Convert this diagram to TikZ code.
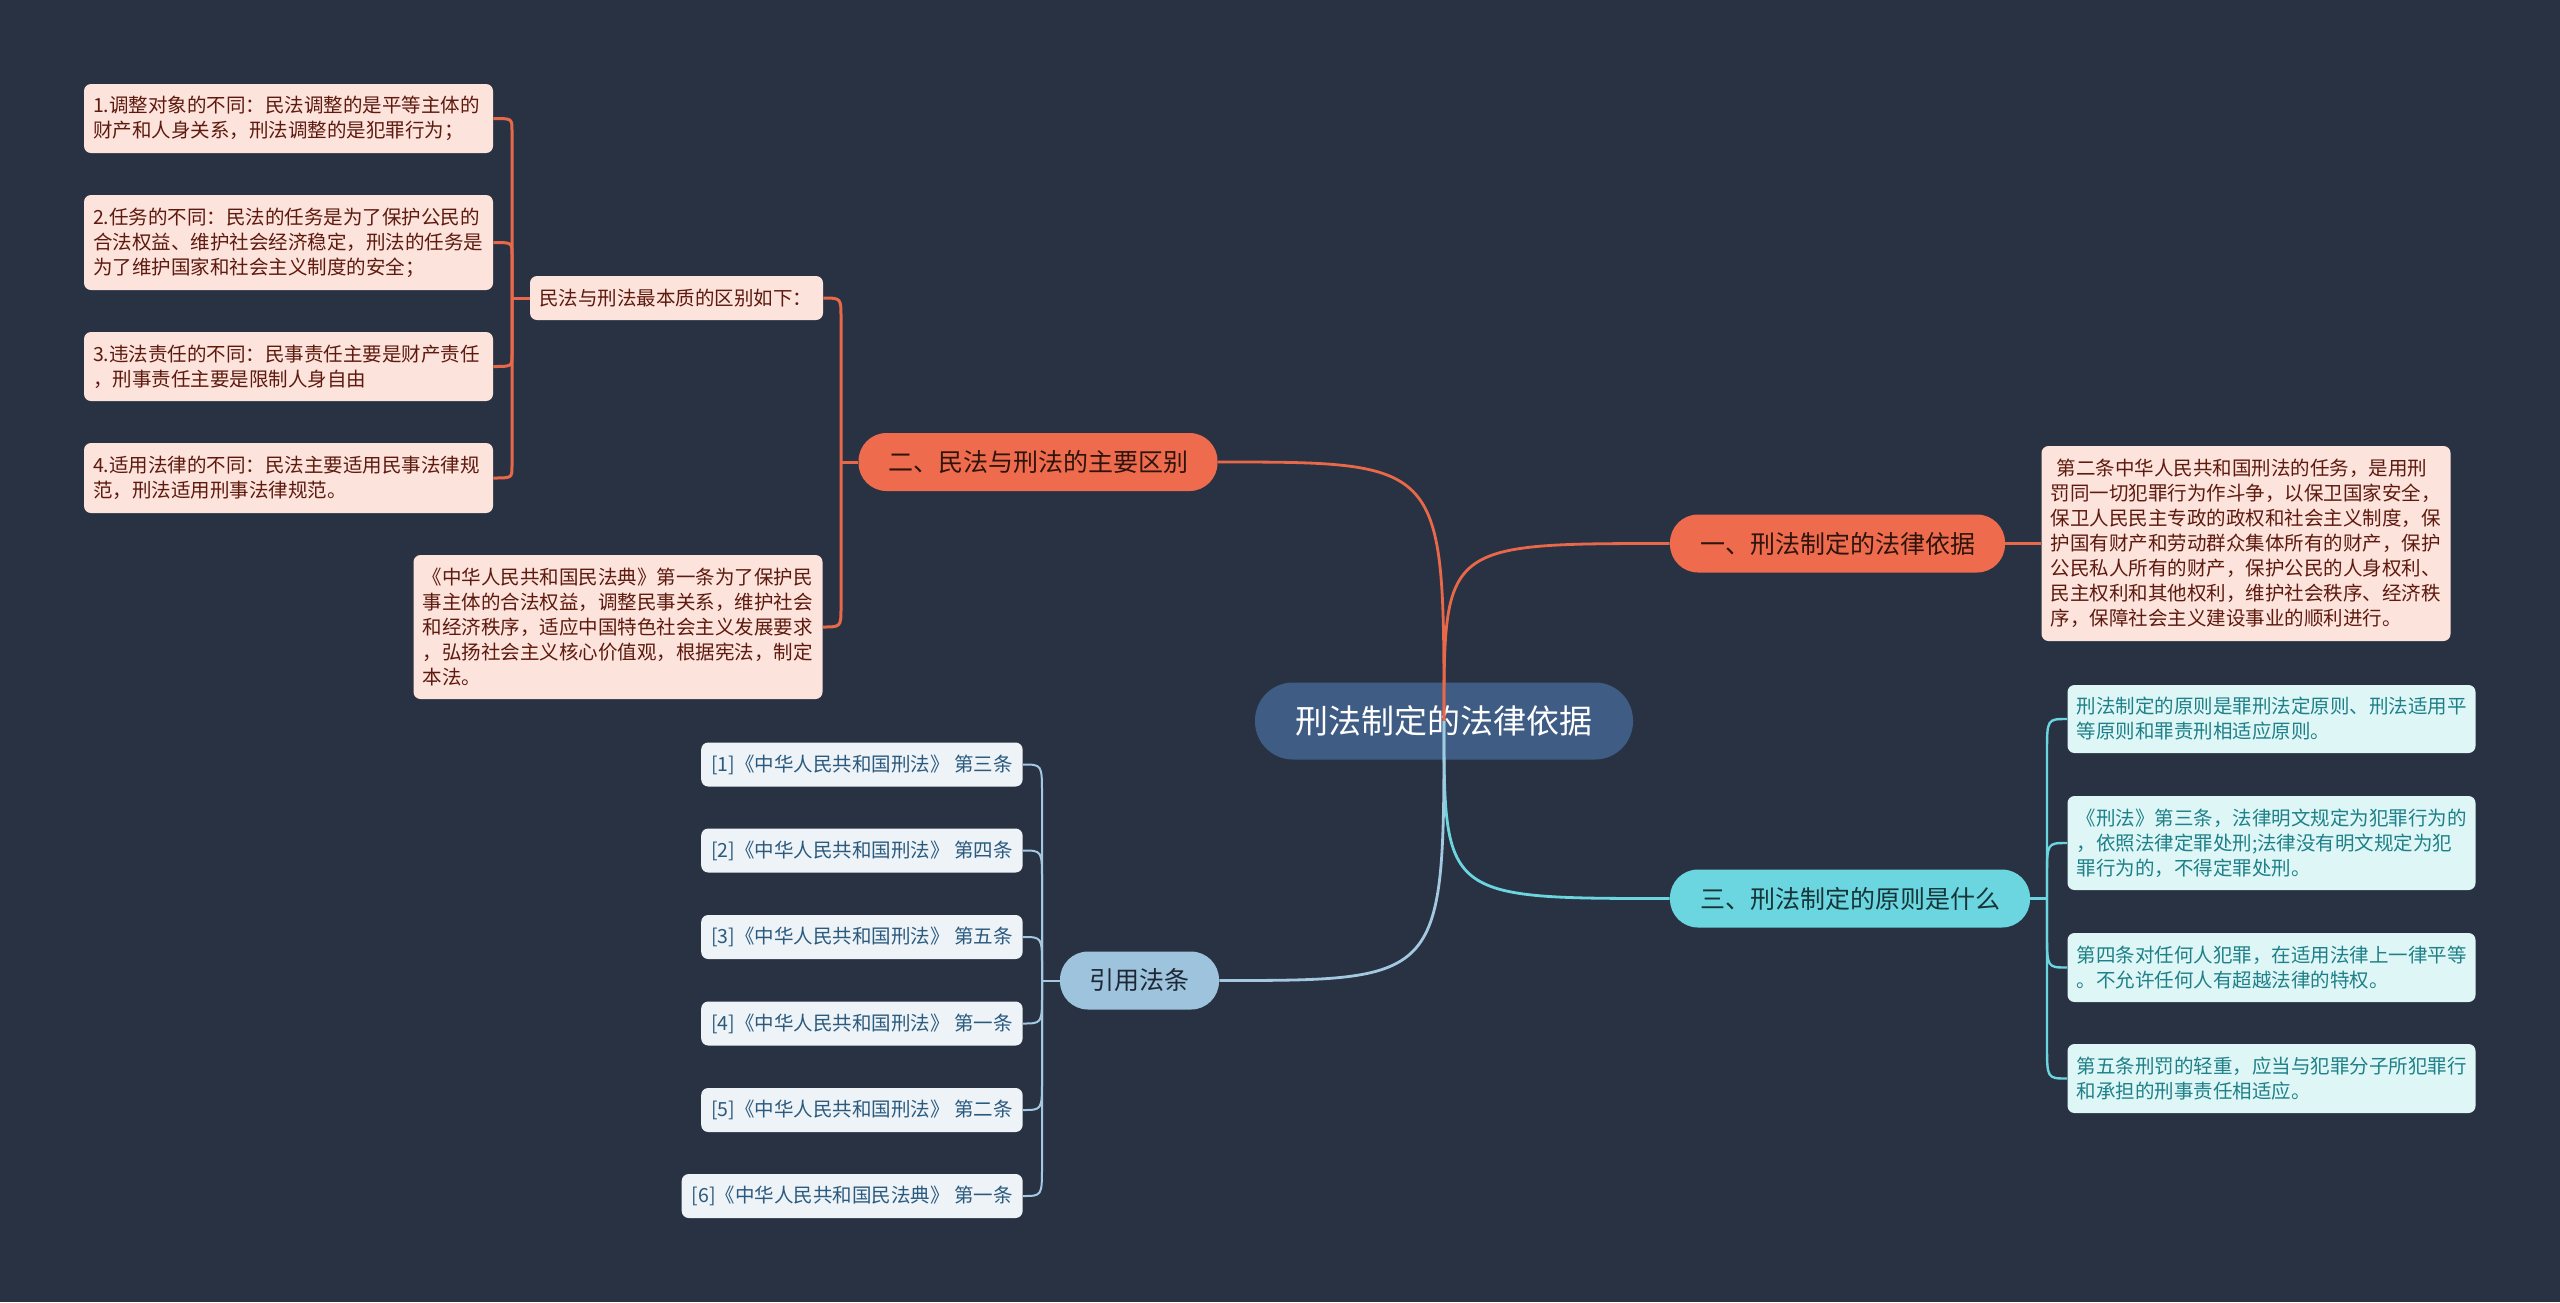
\documentclass[tikz,border=0pt]{standalone}
\usepackage{fontspec}
\setmainfont{Noto Sans CJK SC}
\usetikzlibrary{calc}
\definecolor{bg}{HTML}{293242}
\definecolor{ctrfill}{HTML}{3F5C84}
\definecolor{redfill}{HTML}{EE6C4D}
\definecolor{redln}{HTML}{E8684A}
\definecolor{redtxt}{HTML}{2E140C}
\definecolor{pinkfill}{HTML}{FCE3DC}
\definecolor{pinktxt}{HTML}{5E1A0E}
\definecolor{cyanfill}{HTML}{6BD6DF}
\definecolor{cyantxt}{HTML}{153538}
\definecolor{cyanleaf}{HTML}{DFF6F7}
\definecolor{cyanleaftxt}{HTML}{1E8088}
\definecolor{bluefill}{HTML}{9DC3DD}
\definecolor{blueln}{HTML}{A3C8E0}
\definecolor{bluetxt}{HTML}{1E2835}
\definecolor{blueleaf}{HTML}{EDF3F7}
\definecolor{blueleaftxt}{HTML}{2B5A7E}
\begin{document}
\begin{tikzpicture}[x=0.5pt,y=-0.5pt,
  ctrbox/.style={fill=ctrfill, rounded corners=19pt, minimum width=189pt, minimum height=38.5pt, inner sep=0pt, text=white, font=\fontsize{16.5}{20}\selectfont},
  branch/.style={rounded corners=14pt, minimum height=29pt, inner sep=0pt, font=\fontsize{12.5}{15}\selectfont},
  redbr/.style={branch, fill=redfill, text=redtxt},
  cyanbr/.style={branch, fill=cyanfill, text=cyantxt},
  bluebr/.style={branch, fill=bluefill, text=bluetxt},
  leaf/.style={rounded corners=3.5pt, inner xsep=4.5pt, inner ysep=0pt, align=left, font=\fontsize{9.75}{12.5}\selectfont},
  pinkleaf/.style={leaf, fill=pinkfill, text=pinktxt, text width=195.5pt},
  cyanleafbox/.style={leaf, fill=cyanleaf, text=cyanleaftxt, text width=195pt},
  blueleafbox/.style={leaf, fill=blueleaf, text=blueleaftxt, inner xsep=5pt, minimum height=22pt, anchor=east},
  redline/.style={draw=redln, line width=1.5pt},
  cyanline/.style={draw=cyanfill, line width=1.2pt},
  blueline/.style={draw=blueln, line width=1pt},
  hook/.style={to path={-- ($(\tikztostart |- \tikztotarget)!#1!(\tikztostart)$) .. controls (\tikztostart |- \tikztotarget) .. (\tikztotarget)}}
]
\fill[bg] (0,0) rectangle (2560,1302);
\useasboundingbox (0,0) rectangle (2560,1302);

% central and branch nodes
\node[ctrbox] (ctr) at (1444,721) {刑法制定的法律依据};
\node[redbr, minimum width=167.5pt] (b1) at (1837.5,543.5) {一、刑法制定的法律依据};
\node[redbr, minimum width=179.5pt] (b2) at (1038,462) {二、民法与刑法的主要区别};
\node[cyanbr, minimum width=180pt] (b3) at (1850,898.5) {三、刑法制定的原则是什么};
\node[bluebr, minimum width=79.5pt] (b4) at (1139.5,980.5) {引用法条};

% branch 1 leaf
\node[pinkleaf, minimum height=97.5pt] (l1) at (2246,543.5) {\hspace*{3pt}第二条中华人民共和国刑法的任务，是用刑\\罚同一切犯罪行为作斗争，以保卫国家安全，\\保卫人民民主专政的政权和社会主义制度，保\\护国有财产和劳动群众集体所有的财产，保护\\公民私人所有的财产，保护公民的人身权利、\\民主权利和其他权利，维护社会秩序、经济秩\\序，保障社会主义建设事业的顺利进行。};

% branch 2 children
\node[pinkleaf, text width=137.5pt, minimum height=22pt] (c2) at (676.5,298) {民法与刑法最本质的区别如下：};
\node[pinkleaf, minimum height=72pt] (civ) at (618,627) {《中华人民共和国民法典》第一条为了保护民\\事主体的合法权益，调整民事关系，维护社会\\和经济秩序，适应中国特色社会主义发展要求\\，弘扬社会主义核心价值观，根据宪法，制定\\本法。};
\node[pinkleaf, minimum height=34.5pt] (l2a) at (288.5,118.5) {1.调整对象的不同：民法调整的是平等主体的\\财产和人身关系，刑法调整的是犯罪行为；};
\node[pinkleaf, minimum height=47.5pt] (l2b) at (288.5,242.5) {2.任务的不同：民法的任务是为了保护公民的\\合法权益、维护社会经济稳定，刑法的任务是\\为了维护国家和社会主义制度的安全；};
\node[pinkleaf, minimum height=34.5pt] (l2c) at (288.5,366.5) {3.违法责任的不同：民事责任主要是财产责任\\，刑事责任主要是限制人身自由};
\node[pinkleaf, minimum height=35pt] (l2d) at (288.5,478) {4.适用法律的不同：民法主要适用民事法律规\\范，刑法适用刑事法律规范。};

% branch 3 leaves
\node[cyanleafbox, minimum height=34pt] (l3a) at (2271.5,719) {刑法制定的原则是罪刑法定原则、刑法适用平\\等原则和罪责刑相适应原则。};
\node[cyanleafbox, minimum height=47pt] (l3b) at (2271.5,843) {《刑法》第三条，法律明文规定为犯罪行为的\\，依照法律定罪处刑;法律没有明文规定为犯\\罪行为的，不得定罪处刑。};
\node[cyanleafbox, minimum height=34.5pt] (l3c) at (2271.5,967.5) {第四条对任何人犯罪，在适用法律上一律平等\\。不允许任何人有超越法律的特权。};
\node[cyanleafbox, minimum height=34.5pt] (l3d) at (2271.5,1078.5) {第五条刑罚的轻重，应当与犯罪分子所犯罪行\\和承担的刑事责任相适应。};

% branch 4 leaves
\node[blueleafbox] (l4a) at (1023,764.5) {[1]《中华人民共和国刑法》 第三条};
\node[blueleafbox] (l4b) at (1023,850.5) {[2]《中华人民共和国刑法》 第四条};
\node[blueleafbox] (l4c) at (1023,937) {[3]《中华人民共和国刑法》 第五条};
\node[blueleafbox] (l4d) at (1023,1023.5) {[4]《中华人民共和国刑法》 第一条};
\node[blueleafbox] (l4e) at (1023,1110) {[5]《中华人民共和国刑法》 第二条};
\node[blueleafbox] (l4f) at (1023,1196) {[6]《中华人民共和国民法典》 第一条};

% junctions
\coordinate (j2) at (841,462);
\coordinate (k2) at (512,298);
\coordinate (j3) at (2047,898.5);
\coordinate (j4) at (1042,980.5);

% branch 1
\draw[redline] (b1.east) -- (l1.west);
% branch 2
\draw[redline] (b2.west) -- (j2);
\draw[redline] (j2) to[hook=10pt] (c2.east);
\draw[redline] (j2) to[hook=10pt] (civ.east);
\draw[redline] (c2.west) -- (k2);
\draw[redline] (k2) to[hook=6pt] (l2a.east);
\draw[redline] (k2) to[hook=6pt] (l2b.east);
\draw[redline] (k2) to[hook=6pt] (l2c.east);
\draw[redline] (k2) to[hook=6pt] (l2d.east);
% branch 3
\draw[cyanline] (b3.east) -- (j3);
\draw[cyanline] (j3) to[hook=17pt] (l3a.west);
\draw[cyanline] (j3) to[hook=17pt] (l3b.west);
\draw[cyanline] (j3) to[hook=17pt] (l3c.west);
\draw[cyanline] (j3) to[hook=17pt] (l3d.west);
% branch 4
\draw[blueline] (b4.west) -- (j4);
\draw[blueline] (j4) to[hook=15pt] (l4a.east);
\draw[blueline] (j4) to[hook=15pt] (l4b.east);
\draw[blueline] (j4) to[hook=15pt] (l4c.east);
\draw[blueline] (j4) to[hook=15pt] (l4d.east);
\draw[blueline] (j4) to[hook=15pt] (l4e.east);
\draw[blueline] (j4) to[hook=15pt] (l4f.east);

% main curves from the centre
\draw[redline, line width=1.4pt] (ctr.center) .. controls (ctr.center |- b1.west) .. (b1.west);
\draw[redline, line width=1.4pt] (ctr.center) .. controls (ctr.center |- b2.east) .. (b2.east);
\draw[cyanline, line width=1.4pt] (ctr.center) .. controls (ctr.center |- b3.west) .. (b3.west);
\draw[blueline, line width=1.4pt] (ctr.center) .. controls (ctr.center |- b4.east) .. (b4.east);
\end{tikzpicture}
\end{document}
